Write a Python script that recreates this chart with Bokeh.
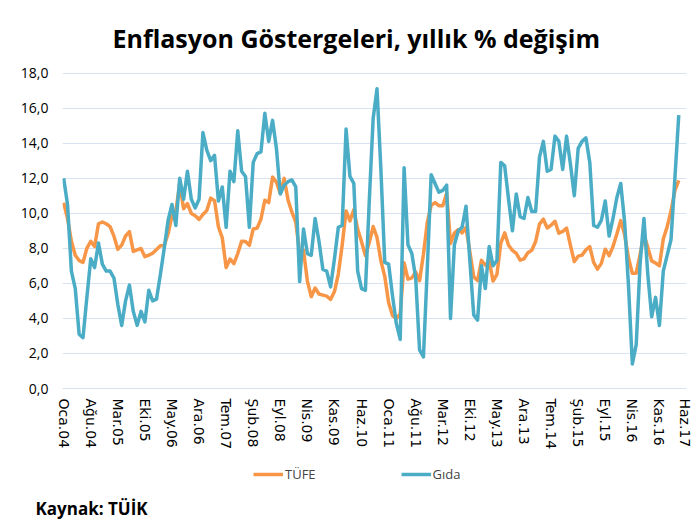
from bokeh.plotting import figure
from bokeh.layouts import column
from bokeh.models import (Range1d, FixedTicker, CustomJSTickFormatter, Legend,
                          LegendItem)
from bokeh.embed import file_html
from bokeh.resources import INLINE

# Monthly annual % change, Jan 2004 .. Apr 2017
tufe = [
    10.6, 9.7, 8.4, 7.6, 7.3, 7.2, 8.0, 8.4, 8.1, 9.4, 9.5, 9.4,          # 2004
    9.24, 8.69, 7.94, 8.18, 8.70, 8.95, 7.82, 7.91, 7.99, 7.52, 7.61, 7.72,  # 2005
    7.93, 8.15, 8.16, 8.83, 9.86, 10.12, 11.69, 10.26, 10.55, 9.98, 9.86, 9.65,  # 2006
    9.93, 10.16, 10.86, 10.72, 9.23, 8.60, 6.90, 7.39, 7.12, 7.70, 8.40, 8.39,  # 2007
    8.17, 9.10, 9.15, 9.66, 10.74, 10.61, 12.06, 11.77, 11.13, 11.99, 10.76, 10.06,  # 2008
    9.50, 7.73, 7.89, 6.13, 5.24, 5.73, 5.39, 5.33, 5.27, 5.08, 5.53, 6.53,  # 2009
    8.19, 10.13, 9.56, 10.19, 9.10, 8.37, 7.58, 8.33, 9.24, 8.62, 7.29, 6.40,  # 2010
    4.90, 4.16, 3.99, 4.26, 7.17, 6.24, 6.31, 6.65, 6.15, 7.66, 9.48, 10.45,  # 2011
    10.61, 10.43, 10.43, 11.14, 8.28, 8.87, 9.07, 8.88, 9.19, 7.80, 6.37, 6.16,  # 2012
    7.31, 7.03, 7.29, 6.13, 6.51, 8.30, 8.88, 8.17, 7.88, 7.71, 7.32, 7.40,  # 2013
    7.75, 7.89, 8.39, 9.38, 9.66, 9.16, 9.32, 9.54, 8.86, 8.96, 9.15, 8.17,  # 2014
    7.24, 7.55, 7.61, 7.91, 8.09, 7.20, 6.81, 7.14, 7.95, 7.58, 8.10, 8.81,  # 2015
    9.58, 8.78, 7.46, 6.57, 6.58, 7.64, 8.79, 8.05, 7.28, 7.16, 7.00, 8.53,  # 2016
    9.22, 10.13, 11.29, 11.87,                                              # 2017
]
gida = [
    12.0, 10.5, 6.7, 5.7, 3.1, 2.9, 5.2, 7.4, 6.9, 8.3, 7.1, 6.7,
    6.7, 6.3, 4.8, 3.6, 5.0, 5.9, 4.4, 3.6, 4.4, 3.8, 5.6, 5.0,
    5.1, 6.5, 8.0, 9.6, 10.5, 9.3, 12.0, 10.8, 12.4, 10.8, 10.3, 10.8,
    14.6, 13.6, 13.0, 13.3, 10.7, 11.5, 9.2, 12.4, 11.8, 14.7, 12.4, 12.1,
    9.2, 12.9, 13.4, 13.5, 15.7, 14.1, 15.3, 13.7, 11.1, 11.6, 11.8, 11.9,
    11.5, 6.1, 9.1, 7.7, 7.6, 9.7, 8.4, 6.8, 6.7, 5.8, 7.4, 9.2,
    9.3, 14.8, 12.1, 11.7, 6.7, 5.7, 5.6, 10.7, 15.4, 17.1, 12.5, 7.2,
    7.1, 5.3, 3.7, 2.8, 12.6, 8.2, 7.7, 6.3, 2.2, 1.8, 6.9, 12.2,
    11.7, 11.2, 11.3, 11.6, 4.0, 8.2, 9.0, 9.2, 10.4, 7.3, 4.2, 3.9,
    7.0, 5.7, 8.1, 7.0, 7.3, 12.9, 12.7, 10.8, 9.0, 11.1, 9.8, 9.7,
    10.9, 10.1, 10.1, 13.2, 14.1, 12.4, 12.5, 14.4, 14.1, 12.5, 14.4, 12.8,
    11.0, 13.7, 14.1, 14.3, 12.9, 9.3, 9.2, 9.6, 10.7, 8.7, 9.7, 10.9,
    11.7, 9.5, 5.9, 1.4, 2.5, 7.1, 9.7, 6.5, 4.1, 5.2, 3.6, 6.7,
    7.6, 8.5, 12.0, 15.6,
]
tick_labels = ["Oca.04", "Ağu.04", "Mar.05", "Eki.05", "May.06", "Ara.06",
               "Tem.07", "Şub.08", "Eyl.08", "Nis.09", "Kas.09", "Haz.10",
               "Oca.11", "Ağu.11", "Mar.12", "Eki.12", "May.13", "Ara.13",
               "Tem.14", "Şub.15", "Eyl.15", "Nis.16", "Kas.16", "Haz.17"]
tick_step = 7
y_ticks = [0, 2, 4, 6, 8, 10, 12, 14, 16, 18]

months = list(range(len(tufe)))
tick_pos = [i * tick_step for i in range(len(tick_labels))]

ORANGE = "#F79646"
BLUE = "#4BACC6"
GRID = "#D9E2F0"
W = 692

p = figure(width=W, height=452, output_backend="svg", toolbar_location=None,
           x_range=Range1d(-0.3, tick_pos[-1]), y_range=Range1d(0, 18.03),
           min_border_left=62, min_border_right=6, min_border_top=72,
           min_border_bottom=62)
p.outline_line_color = None
p.background_fill_color = "white"
p.border_fill_color = "white"

p.title.text = "Enflasyon Göstergeleri, yıllık % değişim"
p.title.text_font = "Open Sans"
p.title.text_font_style = "bold"
p.title.text_font_size = "25px"
p.title.text_color = "#000000"
p.title.align = "left"
p.title.offset = 50
p.title.standoff = 36

r1 = p.line(months, tufe, line_color=ORANGE, line_width=3.5, line_join="round")
r2 = p.line(months, gida, line_color=BLUE, line_width=3.5, line_join="round")

p.xgrid.grid_line_color = None
p.ygrid.grid_line_color = GRID
p.ygrid.grid_line_width = 1
p.ygrid.ticker = FixedTicker(ticks=y_ticks)

p.yaxis.ticker = FixedTicker(ticks=y_ticks)
p.yaxis.formatter = CustomJSTickFormatter(code="return tick.toFixed(1).replace('.', ',');")
p.yaxis.axis_line_color = None
p.yaxis.major_tick_line_color = None
p.yaxis.minor_tick_line_color = None
p.yaxis.major_label_standoff = 8
p.yaxis.major_label_text_font = "Open Sans"
p.yaxis.major_label_text_font_size = "14px"
p.yaxis.major_label_text_color = "#000000"

p.xaxis.ticker = FixedTicker(ticks=tick_pos)
p.xaxis.major_label_overrides = {t: l for t, l in zip(tick_pos, tick_labels)}
p.xaxis.major_label_orientation = "vertical"
p.xaxis.axis_line_color = GRID
p.xaxis.major_tick_line_color = None
p.xaxis.minor_tick_line_color = None
p.xaxis.major_label_standoff = 4
p.xaxis.major_label_text_font = "DejaVu Sans"
p.xaxis.major_label_text_font_size = "14px"
p.xaxis.major_label_text_color = "#000000"

# footer: legend + source (frame is aligned with the main plot's frame)
H2 = 67
f2 = figure(width=W, height=H2, output_backend="svg", toolbar_location=None,
            x_range=Range1d(0, W), y_range=Range1d(0, H2),
            x_axis_location=None, y_axis_location=None,
            title="Kaynak: TÜİK", title_location="below",
            min_border_left=62, min_border_right=6, min_border_top=0,
            min_border_bottom=0)
f2.title.text_font = "Open Sans"
f2.title.text_font_style = "bold"
f2.title.text_font_size = "17px"
f2.title.text_color = "#000000"
f2.title.align = "left"
f2.title.offset = -27
f2.title.standoff = 0
f2.grid.visible = False
f2.outline_line_color = None
f2.border_fill_color = "white"
f2.background_fill_color = "white"
# single-point lines: draw nothing, only provide legend swatches
l1 = f2.line(months[:1], tufe[:1], line_color=ORANGE, line_width=3.5)
l2 = f2.line(months[:1], gida[:1], line_color=BLUE, line_width=3.5)
legend = Legend(items=[LegendItem(label="TÜFE", renderers=[l1]),
                       LegendItem(label="Gıda", renderers=[l2])],
                orientation="horizontal", location=(191, 10),
                glyph_width=30, glyph_height=20, label_standoff=2, spacing=85,
                padding=0, margin=0, border_line_alpha=0, background_fill_alpha=0,
                label_text_font="Open Sans", label_text_font_size="13px")
f2.add_layout(legend, "center")

layout = column(p, f2, spacing=0)
open("out.html", "w").write(file_html(layout, INLINE))
